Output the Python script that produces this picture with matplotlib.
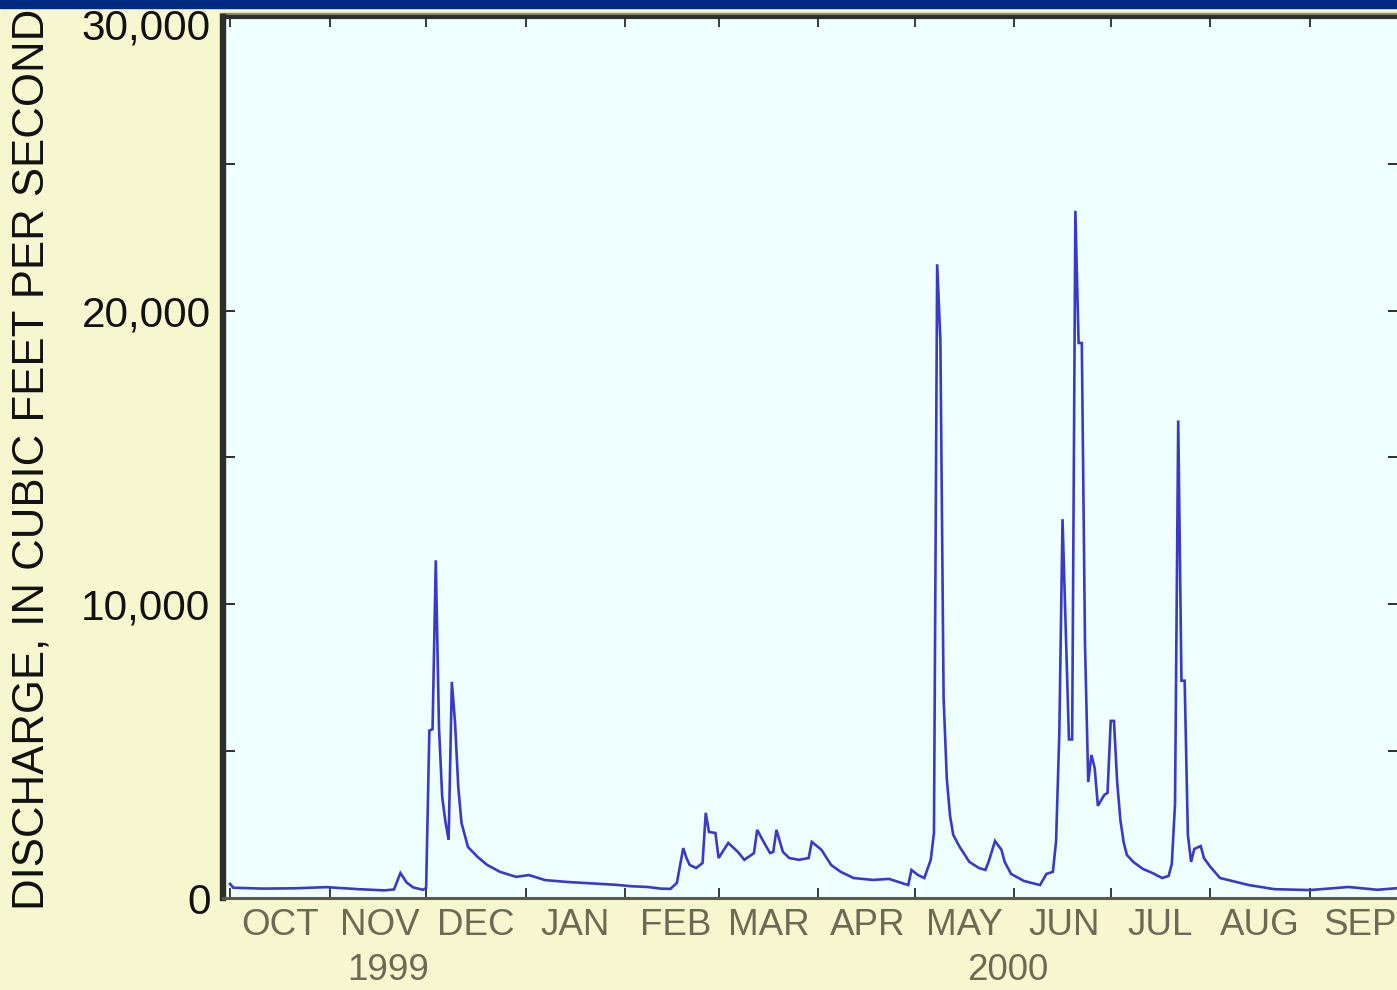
import numpy as np
import pandas as pd
import matplotlib
matplotlib.use("Agg")
import matplotlib.pyplot as plt
import matplotlib.dates as mdates
import matplotlib.transforms as mtransforms
from matplotlib.patches import Rectangle
from matplotlib.ticker import FixedLocator, FuncFormatter

plt.rcParams['font.family'] = ['Liberation Sans', 'DejaVu Sans']

# ---- data (days since 1 Oct 1999, daily mean discharge in cfs) ----
day = [0, 1, 10, 20, 30, 40, 48, 51, 53, 55, 57, 60, 61, 62, 63, 64, 65, 66, 67, 68,
       69, 70, 71, 72, 74, 77, 80, 84, 89, 93, 98, 105, 112, 120, 125, 130, 134, 137,
       139, 141, 142, 143, 145, 147, 148, 149, 151, 152, 155, 158, 160, 163, 164, 166,
       168, 169, 170, 172, 174, 177, 180, 181, 184, 187, 190, 194, 200, 205, 208, 211,
       212, 214, 216, 218, 219, 220, 221, 222, 223, 224, 225, 227, 230, 233, 235, 236,
       238, 240, 241, 243, 247, 252, 254, 256, 257, 258, 259, 260, 261, 262, 263, 264,
       265, 266, 267, 268, 269, 270, 272, 273, 274, 275, 276, 277, 278, 279, 281, 284,
       287, 290, 292, 293, 294, 295, 296, 297, 298, 299, 300, 302, 303, 305, 308, 317,
       325, 336, 348, 357, 365]
discharge = [480, 350, 320, 330, 370, 300, 260, 290, 850, 520, 360, 280, 340, 5700, 5750,
             11500, 5800, 3440, 2600, 1980, 7360, 5960, 3780, 2560, 1740, 1400, 1125, 890,
             720, 780, 610, 545, 500, 450, 400, 375, 320, 310, 510, 1700, 1360, 1125, 1020,
             1190, 2900, 2250, 2215, 1360, 1875, 1570, 1300, 1530, 2320, 1910, 1530, 1570,
             2320, 1570, 1360, 1300, 1360, 1910, 1640, 1125, 890, 680, 615, 650, 545, 440,
             955, 785, 680, 1300, 2215, 21580, 19000, 6800, 4060, 2800, 2150, 1740, 1230,
             1020, 955, 1230, 1940, 1640, 1230, 820, 580, 440, 820, 890, 1940, 5600, 12900,
             9100, 5400, 5400, 23400, 18900, 18900, 8600, 3950, 4870, 4430, 3140, 3510,
             3580, 6030, 6030, 3950, 2660, 1910, 1470, 1230, 990, 850, 680, 750, 1160, 3200,
             16260, 7400, 7400, 2150, 1230, 1670, 1770, 1360, 1060, 680, 440, 300, 270,
             375, 280, 350]
month_labels = ['OCT', 'NOV', 'DEC', 'JAN', 'FEB', 'MAR', 'APR', 'MAY', 'JUN', 'JUL', 'AUG', 'SEP']
year_labels = ['1999', '2000']
ylabel = 'DISCHARGE, IN CUBIC FEET PER SECOND'

start = pd.Timestamp('1999-10-01')
dates = start + pd.to_timedelta(day, unit='D')

W, H = 1397, 990
fig = plt.figure(figsize=(W / 100, H / 100), dpi=100)
fig.patch.set_facecolor('#F7F7CF')

# axes placement in pixels (right edge runs slightly past the image)
L, R, T, B = 223, 1400, 17, 898
ax = fig.add_axes([L / W, 1 - B / H, (R - L) / W, (B - T) / H])
ax.set_facecolor('#F0FFFF')

ax.plot(dates, discharge, color='#3A3AC8', lw=1.9, solid_joinstyle='miter', zorder=3)

ax.set_ylim(0, 30000)
ax.set_xlim(start - pd.Timedelta(days=2.2), start + pd.Timedelta(days=364))

# y ticks
ax.yaxis.set_major_locator(FixedLocator([0, 10000, 20000, 30000]))
ax.yaxis.set_minor_locator(FixedLocator([5000, 15000, 25000]))
ax.yaxis.set_major_formatter(FuncFormatter(lambda v, p: f'{int(v):,}'))
ax.tick_params(axis='y', which='both', direction='in', length=8.5, width=1.4,
               color='#2E2E2A', right=True, labelsize=30.5, pad=9, labelcolor='#111111')

# x ticks: month starts (unlabelled) + mid-month labels
month_starts = pd.date_range('1999-10-01', '2000-09-01', freq='MS')
month_mids = [m + pd.Timedelta(days=15.5) for m in month_starts]
ax.xaxis.set_major_locator(FixedLocator(mdates.date2num(month_starts)))
ax.xaxis.set_major_formatter(FuncFormatter(lambda v, p: ''))
ax.set_xticks(mdates.date2num(month_mids), labels=month_labels, minor=True)
ax.tick_params(axis='x', which='major', direction='in', length=7.5, width=1.4,
               color='#3A3A33', top=True)
ax.tick_params(axis='x', which='minor', length=0, labelsize=26.5, pad=7,
               labelcolor='#6A6A55')

for s, lw, c in [('left', 4.6, '#2E2E2A'), ('top', 3.0, '#2E2E2A'),
                 ('bottom', 2.2, '#5A5A50'), ('right', 2.0, '#2E2E2A')]:
    ax.spines[s].set_linewidth(lw)
    ax.spines[s].set_color(c)

# the top "30,000" label sits a little below its tick in the original
fig.canvas.draw()
for lab in ax.get_yticklabels():
    if lab.get_text() == '30,000':
        lab.set_transform(lab.get_transform() +
                          mtransforms.ScaledTranslation(0, -7 / 100, fig.dpi_scale_trans))

# year labels
fig.text(388 / W, 1 - 971 / H, year_labels[0], ha='center', va='center',
         fontsize=26.5, color='#6A6A55')
fig.text(1008 / W, 1 - 971 / H, year_labels[1], ha='center', va='center',
         fontsize=26.5, color='#6A6A55')

# y-axis title
fig.text(32 / W, 1 - 910 / H, ylabel, rotation=90, ha='center', va='bottom',
         fontsize=31.5, color='#111111')

# thin olive line above the plot and dark blue band at the very top
fig.add_artist(Rectangle((L / W - 0.002, 1 - 15.5 / H), 1.0, 2.5 / H,
                         transform=fig.transFigure, color='#8A8A70', zorder=0))
fig.add_artist(Rectangle((0, 1 - 8 / H), 1, 8 / H, transform=fig.transFigure,
                         color='#002A80', zorder=10))

fig.savefig('out.png', dpi=100, facecolor=fig.get_facecolor())
